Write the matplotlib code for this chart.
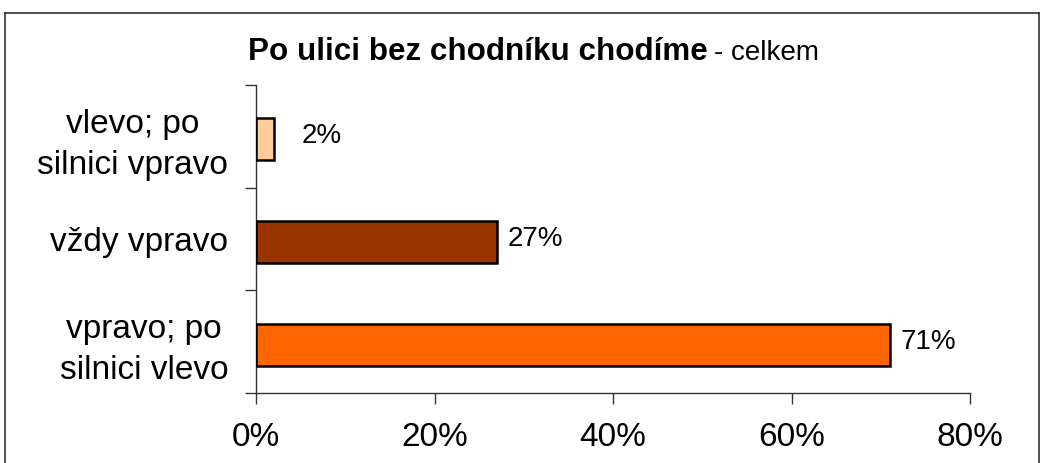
import matplotlib
matplotlib.use("Agg")
import matplotlib.pyplot as plt
from matplotlib.lines import Line2D

plt.rcParams['font.family'] = ['Liberation Sans', 'DejaVu Sans']

categories = ["vpravo; po\nsilnici vlevo", "vždy vpravo", "vlevo; po\nsilnici vpravo"]
values = [71, 27, 2]
colors = ["#FF6600", "#993300", "#FFCC99"]
xticks = [0, 20, 40, 60, 80]
xticklabels = ["0%", "20%", "40%", "60%", "80%"]
value_labels = ["71%", "27%", "2%"]
label_offsets = [8, 8, 20]

W, H = 1042, 463
fig = plt.figure(figsize=(W / 100, H / 100), dpi=100)
fig.patch.set_facecolor("white")

# outer frame
fig.add_artist(Line2D([5 / W, 1039 / W], [1 - 13 / H, 1 - 13 / H], transform=fig.transFigure, color="#333333", lw=1.2))
fig.add_artist(Line2D([5 / W, 5 / W], [0, 1 - 13 / H], transform=fig.transFigure, color="#333333", lw=1.2))
fig.add_artist(Line2D([1039 / W, 1039 / W], [0, 1 - 13 / H], transform=fig.transFigure, color="#333333", lw=1.2))

ax = fig.add_axes([256 / W, 1 - 393 / H, (970 - 256) / W, (393 - 85) / H])
ypos = [0, 1, 2]
ax.barh([y - 0.03 for y in ypos], values, height=0.41, color=colors, edgecolor="black", linewidth=1.8, zorder=3)
ax.set_xlim(0, 80)
ax.set_ylim(-0.5, 2.5)
ax.set_xticks(xticks)
ax.set_xticklabels(xticklabels, fontsize=24)
ax.set_yticks([-0.5, 0.5, 1.5, 2.5])
ax.set_yticklabels([])
ax.set_yticks(ypos, minor=True)
ax.set_yticklabels(categories, minor=True, fontsize=24, multialignment="center", linespacing=1.42)
ax.tick_params(axis="y", which="minor", length=0, pad=20)
ax.tick_params(axis="y", which="major", length=8, width=1, color="#333333", direction="out")
ax.tick_params(axis="x", length=8, width=1, color="#333333", direction="out", pad=13)
for s in ["top", "right"]:
    ax.spines[s].set_visible(False)
for s in ["left", "bottom"]:
    ax.spines[s].set_color("#333333")
    ax.spines[s].set_linewidth(1)

for y, v, lab, off in zip(ypos, values, value_labels, label_offsets):
    ax.annotate(lab, (v, y), xytext=(off, 0), textcoords="offset points",
                ha="left", va="center", fontsize=20)

t1 = fig.text(248 / W, 1 - 60 / H, "Po ulici bez chodníku chodíme", fontsize=22.6, fontweight="bold",
              ha="left", va="baseline")
fig.canvas.draw()
bb = t1.get_window_extent()
fig.text((bb.x1 + 6) / W, 1 - 60 / H, "- celkem", fontsize=20, ha="left", va="baseline")

fig.savefig("out.png", dpi=100)
